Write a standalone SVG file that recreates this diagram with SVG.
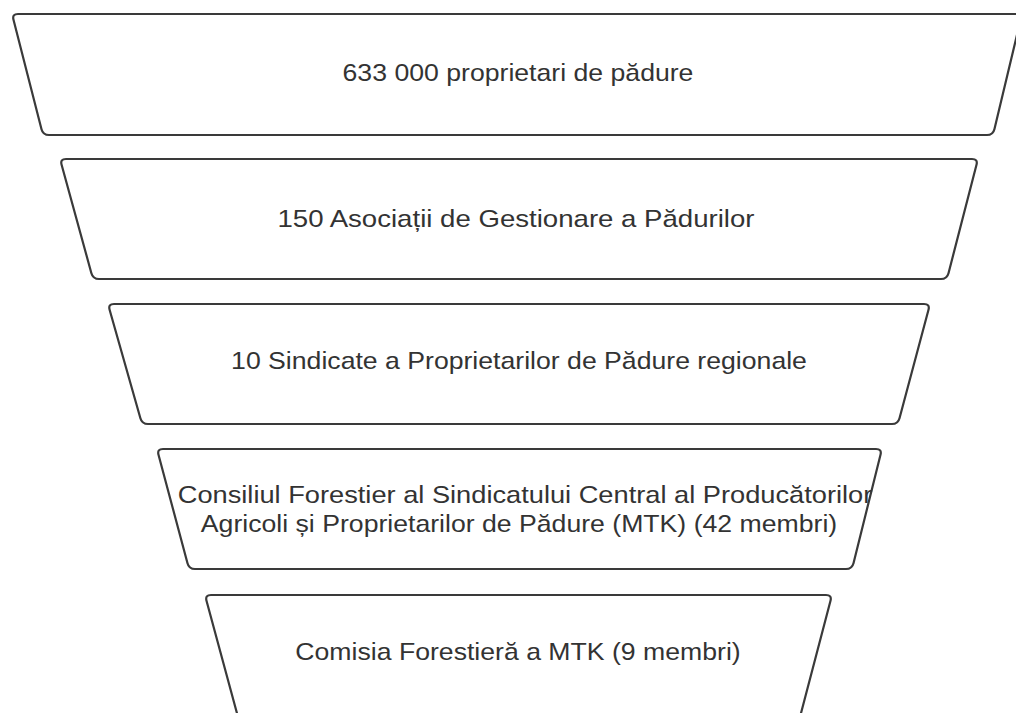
<svg xmlns="http://www.w3.org/2000/svg" width="1016" height="713" viewBox="0 0 1016 713">
<style>
.shape{fill:#ffffff;stroke:#3a3a3a;stroke-width:2.2;stroke-linejoin:round}
.lbl{font-family:"Liberation Sans",Arial,sans-serif;font-size:24px;fill:#333333;text-anchor:middle}
</style>
<rect width="1016" height="713" fill="#ffffff"/>
<g id="connectors"></g>
<g id="node1">
<path class="shape" d="M 18,14 H 1016 Q 1022,14 1020.6,19.8 L 994.4,129.2 Q 993,135 987,135 H 49 Q 43,135 41.5,129.2 L 13.5,19.8 Q 12,14 18,14 Z"/>
<g transform="translate(518,0) scale(1.11,1)"><text class="lbl" x="0" y="81">633 000 proprietari de pădure</text></g>
</g>
<g id="node2">
<path class="shape" d="M 66,159 H 972 Q 978,159 976.5,164.8 L 948.5,273.2 Q 947,279 941,279 H 99 Q 93,279 91.4,273.2 L 61.6,164.8 Q 60,159 66,159 Z"/>
<g transform="translate(516,0) scale(1.15,1)"><text class="lbl" x="0" y="227">150 Asociații de Gestionare a Pădurilor</text></g>
</g>
<g id="node3">
<path class="shape" d="M 114,304 H 924 Q 930,304 928.5,309.8 L 899.5,418.2 Q 898,424 892,424 H 148 Q 142,424 140.4,418.2 L 109.6,309.8 Q 108,304 114,304 Z"/>
<g transform="translate(519,0) scale(1.11,1)"><text class="lbl" x="0" y="369">10 Sindicate a Proprietarilor de Pădure regionale</text></g>
</g>
<g id="node4">
<path class="shape" d="M 163,449 H 876 Q 882,449 880.5,454.8 L 853.5,563.2 Q 852,569 846,569 H 195 Q 189,569 187.5,563.2 L 158.5,454.8 Q 157,449 163,449 Z"/>
<g transform="translate(525,0) scale(1.135,1)"><text class="lbl" x="0" y="503">Consiliul Forestier al Sindicatului Central al Producătorilor</text></g>
<g transform="translate(519,0) scale(1.11,1)"><text class="lbl" x="0" y="532">Agricoli și Proprietarilor de Pădure (MTK) (42 membri)</text></g>
</g>
<g id="node5">
<path class="shape" d="M 211,595 H 826 Q 832,595 830.5,600.8 L 800,717 L 238,717 L 206.5,600.8 Q 205,595 211,595 Z"/>
<g transform="translate(518,0) scale(1.11,1)"><text class="lbl" x="0" y="660">Comisia Forestieră a MTK (9 membri)</text></g>
</g>
</svg>
